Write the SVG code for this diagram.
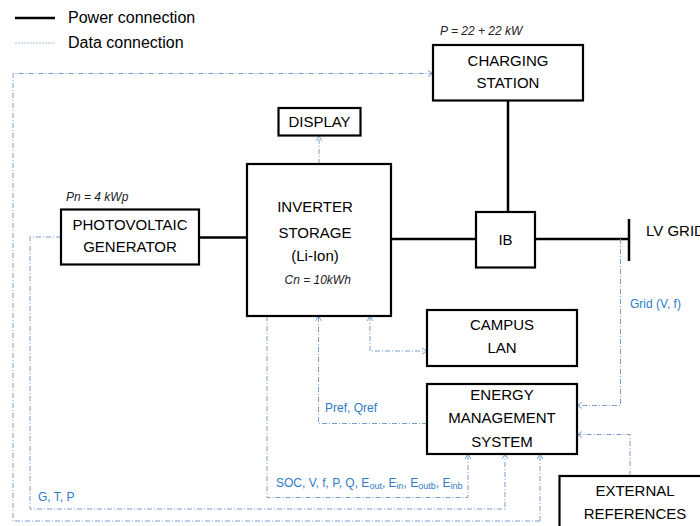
<svg xmlns="http://www.w3.org/2000/svg" width="700" height="526" viewBox="0 0 700 526">
  <defs>
    <marker id="arr" markerWidth="8" markerHeight="8" refX="6" refY="4" orient="auto-start-reverse" markerUnits="userSpaceOnUse">
      <path d="M1,1 L6,4 L1,7" fill="none" stroke="#7fa6d8" stroke-width="1"/>
    </marker>
  </defs>
  <style>
    .box { fill: #ffffff; stroke: #000000; stroke-width: 2.2; }
    .pwr { fill: none; stroke: #000000; stroke-width: 2.5; }
    .data { fill: none; stroke: #7a9ccf; stroke-width: 1; stroke-dasharray: 5 2 1 2; }
    .lbl { font-family: "Liberation Sans", Arial, sans-serif; font-size: 15px; fill: #000000; text-anchor: middle; }
    .leg { font-family: "Liberation Sans", Arial, sans-serif; font-size: 16px; fill: #000000; }
    .par { font-family: "Liberation Sans", Arial, sans-serif; font-size: 12px; font-style: italic; fill: #222222; }
    .sig { font-family: "Liberation Sans", Arial, sans-serif; font-size: 12px; fill: #2e7bc8; }
  </style>
  <rect width="700" height="526" fill="#ffffff"/>

  <!-- legend -->
  <g id="legend">
    <line x1="15" y1="18" x2="55" y2="18" class="pwr"/>
    <text x="68" y="23" class="leg">Power connection</text>
    <line x1="15" y1="43" x2="55" y2="43" stroke="#a9c2e4" stroke-width="1" stroke-dasharray="2 1"/>
    <text x="68" y="48" class="leg">Data connection</text>
  </g>

  <!-- connectors -->
  <g id="connectors">
    <!-- power -->
    <line x1="508" y1="100" x2="508" y2="212" class="pwr"/>
    <line x1="199" y1="237.5" x2="247" y2="237.5" class="pwr"/>
    <line x1="391" y1="239" x2="476" y2="239" class="pwr"/>
    <line x1="535" y1="239" x2="629" y2="239" class="pwr"/>
    <line x1="629" y1="219" x2="629" y2="261" class="pwr"/>

    <!-- data -->
    <path d="M540,521 H13 V73.5 H433" class="data" marker-end="url(#arr)"/>
    <path d="M540,521 V454" class="data" marker-end="url(#arr)"/>
    <path d="M61,237 H30 V509 H505 V454" class="data" marker-end="url(#arr)"/>
    <path d="M267,316 V497.5 H468 V454" class="data" marker-end="url(#arr)"/>
    <path d="M319,164 V136" class="data" marker-end="url(#arr)"/>
    <path d="M427,423.5 H318.5 V316" class="data" marker-end="url(#arr)"/>
    <path d="M370,316 V351 H427" class="data" marker-start="url(#arr)" marker-end="url(#arr)"/>
    <path d="M620.5,239 V405.5 H577" class="data" marker-end="url(#arr)"/>
    <path d="M630,476 V434.5 H577" class="data" marker-end="url(#arr)"/>

    <text x="630" y="308" class="sig">Grid (V, f)</text>
    <text x="325" y="412" class="sig">Pref, Qref</text>
    <text x="38" y="501" class="sig">G, T, P</text>
    <text x="276" y="487" class="sig">SOC, V, f, P, Q, E<tspan font-size="9" dy="2">out</tspan><tspan dy="-2">, E</tspan><tspan font-size="9" dy="2">in</tspan><tspan dy="-2">, E</tspan><tspan font-size="9" dy="2">outb</tspan><tspan dy="-2">, E</tspan><tspan font-size="9" dy="2">inb</tspan></text>
  </g>

  <!-- nodes -->
  <g id="charging-station">
    <text x="440" y="35" class="par">P = 22 + 22 kW</text>
    <rect x="433" y="45" width="150" height="55.5" class="box"/>
    <text x="508" y="65.5" class="lbl">CHARGING</text>
    <text x="508" y="87.5" class="lbl">STATION</text>
  </g>

  <g id="display">
    <rect x="278.5" y="108" width="82" height="27.5" class="box"/>
    <text x="319.5" y="126.5" class="lbl">DISPLAY</text>
  </g>

  <g id="pv-generator">
    <text x="66" y="201" class="par">Pn = 4 kWp</text>
    <rect x="61" y="209.5" width="138" height="55" class="box"/>
    <text x="130" y="229.5" class="lbl">PHOTOVOLTAIC</text>
    <text x="130" y="251.5" class="lbl">GENERATOR</text>
  </g>

  <g id="inverter-storage">
    <rect x="247" y="164" width="144" height="152" class="box"/>
    <text x="315" y="212" class="lbl">INVERTER</text>
    <text x="315" y="238" class="lbl">STORAGE</text>
    <text x="315" y="261" class="lbl">(Li-Ion)</text>
    <text x="284.5" y="284" class="par">Cn = 10kWh</text>
  </g>

  <g id="ib">
    <rect x="476" y="212" width="59" height="55.5" class="box"/>
    <text x="505.5" y="244.5" class="lbl">IB</text>
  </g>

  <g id="lv-grid">
    <text x="646" y="236" class="lbl" style="text-anchor:start">LV GRID</text>
  </g>

  <g id="campus-lan">
    <rect x="427" y="310" width="150" height="56" class="box"/>
    <text x="502" y="329.5" class="lbl">CAMPUS</text>
    <text x="502" y="352.5" class="lbl">LAN</text>
  </g>

  <g id="ems">
    <rect x="427" y="384" width="150" height="70" class="box"/>
    <text x="502" y="400" class="lbl">ENERGY</text>
    <text x="502" y="423" class="lbl">MANAGEMENT</text>
    <text x="502" y="446.5" class="lbl">SYSTEM</text>
  </g>

  <g id="external-references">
    <rect x="559.5" y="476" width="200" height="100" class="box"/>
    <text x="635" y="495.5" class="lbl">EXTERNAL</text>
    <text x="635" y="518.5" class="lbl">REFERENCES</text>
  </g>
</svg>
